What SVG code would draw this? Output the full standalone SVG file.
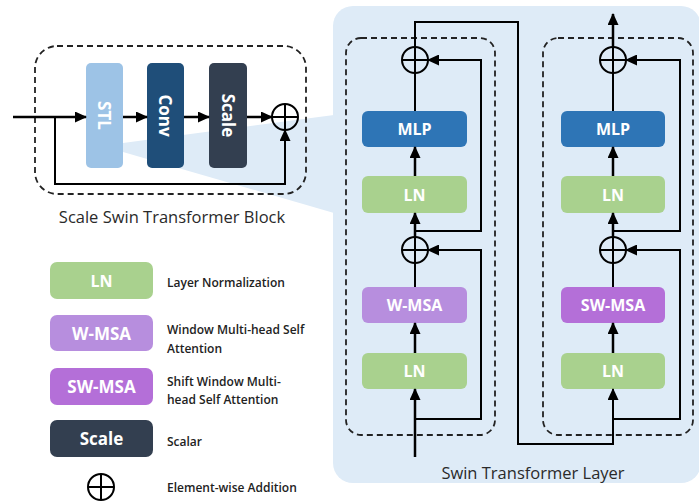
<svg xmlns="http://www.w3.org/2000/svg" width="699" height="503" viewBox="0 0 699 503">
<defs>
<style>
.ln{fill:#a9d18e}
.mlp{fill:#2e75b6}
.wmsa{fill:#b78ede}
.swmsa{fill:#b46fd8}
.scale{fill:#333f50}
.conv{fill:#1f4e79}
.stl{fill:#9dc3e6}
.bt{font-family:"Open Sans","Noto Sans",sans-serif;font-weight:700;fill:#ffffff;text-anchor:middle;dominant-baseline:central}
.lbl{font-family:"Open Sans","Noto Sans",sans-serif;fill:#2a2a2a;text-anchor:middle}
.leg{font-family:"Open Sans","Noto Sans",sans-serif;font-weight:600;font-size:12px;fill:#222}
.dash{fill:none;stroke:#222;stroke-width:1.8;stroke-dasharray:6 4}
.w{fill:none;stroke:#000;stroke-width:2.5}
.t{fill:none;stroke:#000;stroke-width:2}
.add{fill:none;stroke:#000;stroke-width:2}
</style>
<marker id="ah" viewBox="0 0 12 11" markerWidth="12" markerHeight="11" refX="11" refY="5.5" orient="auto" markerUnits="userSpaceOnUse">
<path d="M0,0 L12,5.5 L0,11 z" fill="#000"/>
</marker>
</defs>

<!-- panel and zoom wedge -->
<rect x="333" y="6" width="368" height="477" rx="20" fill="#deebf7"/>
<polygon points="123,143 334,115 334,213 123,152" fill="#deebf7"/>

<!-- Scale Swin Transformer Block -->
<g id="block">
<rect class="dash" x="35" y="46" width="271" height="148" rx="22"/>
<text class="lbl" x="172" y="223" font-size="16.5">Scale Swin Transformer Block</text>
</g>
<g id="stl"><rect class="stl" x="86" y="63" width="37" height="105" rx="5"/><text class="bt" font-size="17" transform="translate(104.5,115.5) rotate(90)">STL</text></g>
<g id="conv"><rect class="conv" x="147" y="63" width="37" height="105" rx="5"/><text class="bt" font-size="17" transform="translate(165.5,115.5) rotate(90)">Conv</text></g>
<g id="scaleblk"><rect class="scale" x="209" y="63" width="38" height="105" rx="5"/><text class="bt" font-size="17" transform="translate(228,115.5) rotate(90)">Scale</text></g>
<g id="add0"><circle class="add" cx="285" cy="117" r="13"/><path class="add" d="M272,117 H298 M285,104 V130"/></g>

<!-- Swin layer -->
<g id="dashL"><rect class="dash" x="346" y="38" width="149" height="397" rx="15"/></g>
<g id="dashR"><rect class="dash" x="543" y="38" width="150" height="397" rx="15"/></g>

<g id="ln1"><rect class="ln" x="362" y="353" width="105" height="36" rx="6"/><text class="bt" x="414.5" y="371" font-size="16">LN</text></g>
<g id="wmsa"><rect class="wmsa" x="362" y="287" width="105" height="36" rx="6"/><text class="bt" x="414.5" y="305" font-size="16">W-MSA</text></g>
<g id="add1"><circle class="add" cx="415" cy="250" r="13"/><path class="add" d="M402,250 H428 M415,237 V263"/></g>
<g id="ln2"><rect class="ln" x="362" y="176" width="105" height="37" rx="6"/><text class="bt" x="414.5" y="194.5" font-size="16">LN</text></g>
<g id="mlp1"><rect class="mlp" x="362" y="111" width="105" height="36" rx="6"/><text class="bt" x="414.5" y="129" font-size="16">MLP</text></g>
<g id="add2"><circle class="add" cx="415" cy="60" r="13"/><path class="add" d="M402,60 H428 M415,47 V73"/></g>

<g id="ln3"><rect class="ln" x="561" y="353" width="104" height="36" rx="6"/><text class="bt" x="613" y="371" font-size="16">LN</text></g>
<g id="swmsa"><rect class="swmsa" x="561" y="287" width="104" height="36" rx="6"/><text class="bt" x="613" y="305" font-size="16">SW-MSA</text></g>
<g id="add3"><circle class="add" cx="613" cy="250" r="13"/><path class="add" d="M600,250 H626 M613,237 V263"/></g>
<g id="ln4"><rect class="ln" x="561" y="176" width="104" height="37" rx="6"/><text class="bt" x="613" y="194.5" font-size="16">LN</text></g>
<g id="mlp2"><rect class="mlp" x="561" y="111" width="104" height="36" rx="6"/><text class="bt" x="613" y="129" font-size="16">MLP</text></g>
<g id="add4"><circle class="add" cx="613" cy="60" r="13"/><path class="add" d="M600,60 H626 M613,47 V73"/></g>

<text class="lbl" x="533" y="479" font-size="16.5">Swin Transformer Layer</text>

<!-- connectors -->
<g id="connectors">
<path class="w" d="M13,117 H86" marker-end="url(#ah)"/>
<path class="t" d="M55,117 V184 H285 V130" marker-end="url(#ah)"/>
<path class="w" d="M123,117 H147" marker-end="url(#ah)"/>
<path class="w" d="M184,117 H209" marker-end="url(#ah)"/>
<path class="w" d="M247,117 H272" marker-end="url(#ah)"/>

<path class="w" d="M415,457 V389" marker-end="url(#ah)"/>
<path class="w" d="M415,353 V323" marker-end="url(#ah)"/>
<path class="t" d="M415,287 V263"/>
<path class="w" d="M415,237 V213" marker-end="url(#ah)"/>
<path class="w" d="M415,176 V147" marker-end="url(#ah)"/>
<path class="t" d="M415,111 V73"/>
<path class="t" d="M415,419 H481 V250 H428" marker-end="url(#ah)"/>
<path class="t" d="M415,231 H481 V60 H428" marker-end="url(#ah)"/>
<path class="t" d="M415,47 V22 H518 V444 H613 V389" marker-end="url(#ah)"/>

<path class="w" d="M613,353 V323" marker-end="url(#ah)"/>
<path class="t" d="M613,287 V263"/>
<path class="w" d="M613,237 V213" marker-end="url(#ah)"/>
<path class="w" d="M613,176 V147" marker-end="url(#ah)"/>
<path class="t" d="M613,111 V73"/>
<path class="t" d="M613,419 H680 V250 H626" marker-end="url(#ah)"/>
<path class="t" d="M613,231 H680 V60 H626" marker-end="url(#ah)"/>
<path class="w" d="M613,47 V14" marker-end="url(#ah)"/>
</g>

<!-- legend -->
<g id="legLN"><rect class="ln" x="50" y="262" width="103" height="37" rx="7"/><text class="bt" x="101.5" y="280.5" font-size="16">LN</text><text class="leg" x="167" y="287">Layer Normalization</text></g>
<g id="legW"><rect class="wmsa" x="50" y="315" width="103" height="36" rx="7"/><text class="bt" x="101.5" y="333" font-size="17">W-MSA</text><text class="leg" x="167" y="334">Window Multi-head Self</text><text class="leg" x="167" y="353">Attention</text></g>
<g id="legSW"><rect class="swmsa" x="50" y="368" width="103" height="37" rx="7"/><text class="bt" x="101.5" y="386.5" font-size="17">SW-MSA</text><text class="leg" x="167" y="386">Shift Window Multi-</text><text class="leg" x="167" y="404">head Self Attention</text></g>
<g id="legScale"><rect class="scale" x="50" y="420" width="103" height="37" rx="7"/><text class="bt" x="101.5" y="438" font-size="17">Scale</text><text class="leg" x="167" y="446">Scalar</text></g>
<g id="legAdd"><circle class="add" cx="101" cy="487" r="13"/><path class="add" d="M88,487 H114 M101,474 V500"/><text class="leg" x="167" y="492">Element-wise Addition</text></g>
</svg>
